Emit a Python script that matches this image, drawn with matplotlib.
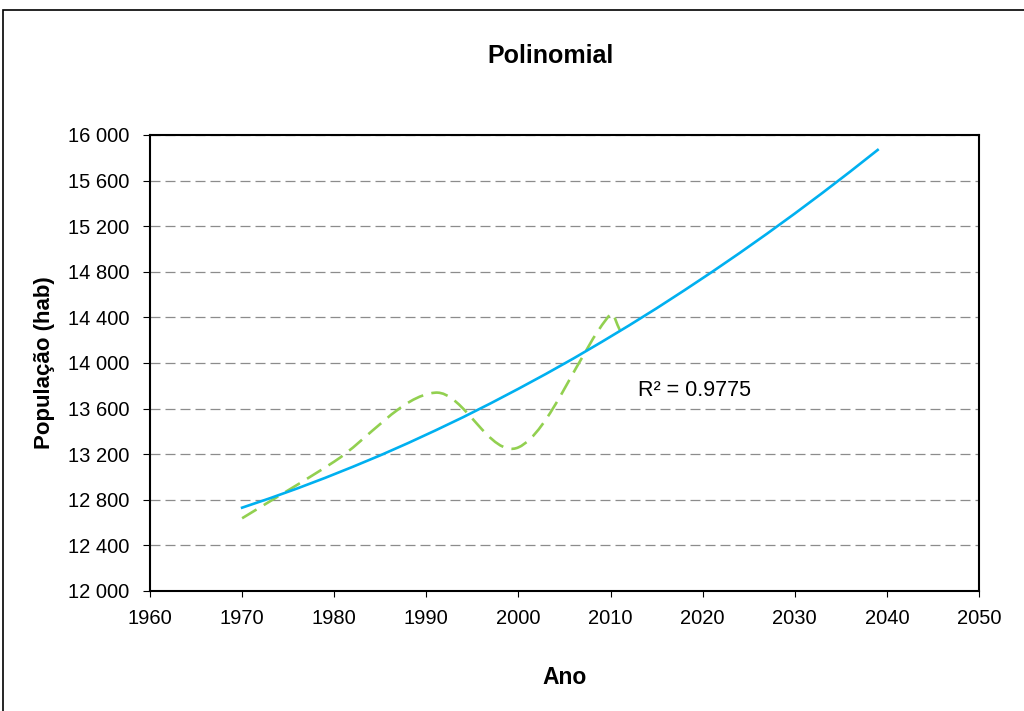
import matplotlib.pyplot as plt
import numpy as np
from matplotlib.path import Path
from matplotlib.patches import PathPatch, Rectangle

plt.rcParams['font.family'] = ['Liberation Sans', 'DejaVu Sans']

# census counts
anos = [1970, 1980, 1991, 2000, 2010, 2011]
populacao = [12638, 13135, 13740, 13260, 14430, 14290]

# polynomial trend, one value every 3 years up to 2039
anos_tendencia = list(range(1970, 2040, 3))
tendencia = [12731, 12813, 12900, 12992, 13089, 13190, 13297, 13409,
             13525, 13647, 13774, 13905, 14041, 14183, 14329, 14480,
             14637, 14798, 14964, 15135, 15311, 15492, 15678, 15869]
r2 = 0.9775

x_ticks = list(range(1960, 2051, 10))
y_ticks = list(range(12000, 16001, 400))
y_labels = [f"{v:,}".replace(",", " ") for v in y_ticks]


def smooth_path(x, y):
    # cubic bezier through every point, tangents from the neighbours
    x = np.asarray(x, float)
    y = np.asarray(y, float)
    m = np.empty_like(y)
    m[0] = (y[1] - y[0]) / (x[1] - x[0])
    m[-1] = (y[-1] - y[-2]) / (x[-1] - x[-2])
    m[1:-1] = (y[2:] - y[:-2]) / (x[2:] - x[:-2])
    verts = [(x[0], y[0])]
    codes = [Path.MOVETO]
    for i in range(len(x) - 1):
        h = (x[i + 1] - x[i]) / 3
        verts += [(x[i] + h, y[i] + m[i] * h),
                  (x[i + 1] - h, y[i + 1] - m[i + 1] * h),
                  (x[i + 1], y[i + 1])]
        codes += [Path.CURVE4] * 3
    return Path(verts, codes)


fig = plt.figure(figsize=(10.24, 7.11), dpi=100)
ax = fig.add_axes([150 / 1024, 1 - 591 / 711, 829 / 1024, 456 / 711])

ax.add_patch(PathPatch(smooth_path(anos, populacao), fill=False,
                       edgecolor='#92D050', lw=1.9,
                       linestyle=(0, (6.4, 3.2)), zorder=3))
ax.plot(anos_tendencia, tendencia, color='#00B0F0', lw=1.9, zorder=4)

ax.text(2013, 13763, f"R² = {r2}", fontsize=15.5, ha='left', va='center')

ax.set_xlim(1960, 2050)
ax.set_ylim(12000, 16000)
ax.set_xticks(x_ticks)
ax.set_yticks(y_ticks)
ax.set_yticklabels(y_labels)
ax.tick_params(axis='both', labelsize=14.5, direction='out', width=0.8,
               color='black')
ax.tick_params(axis='y', length=5, pad=10)
ax.tick_params(axis='x', length=4, pad=9)

ax.yaxis.grid(True, color='#8C8C8C', lw=0.9, linestyle=(0, (8, 4)))
ax.set_axisbelow(True)
for s in ax.spines.values():
    s.set_linewidth(1.5)
    s.set_color('black')

fig.text(550.5 / 1024, 1 - 63 / 711, "Polinomial", fontsize=18,
         fontweight='bold', ha='center', va='baseline')
fig.text(565 / 1024, 1 - 684 / 711, "Ano", fontsize=16.5,
         fontweight='bold', ha='center', va='baseline')
fig.text(45 / 1024, 1 - 363 / 711, "População (hab)", fontsize=16,
         fontweight='bold', rotation=90, ha='center', va='center')

# chart frame
fig.add_artist(Rectangle((3 / 1024, -0.1), 1.2, 1.1 - 10 / 711,
                         transform=fig.transFigure, fill=False,
                         edgecolor='black', lw=1.2))

fig.savefig('out.png', dpi=100)
